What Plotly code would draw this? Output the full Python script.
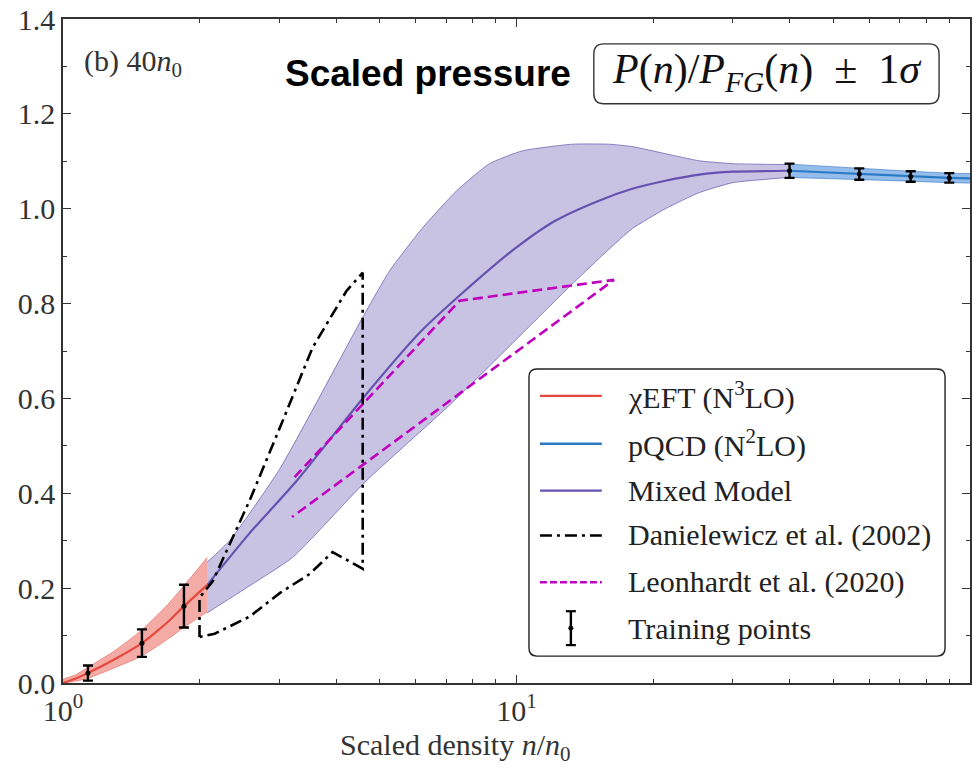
import plotly.graph_objects as go

# ---------------- data ----------------
# chiEFT (N3LO) band
eft_n   = [1.0, 1.07, 1.135, 1.3, 1.493, 1.7, 1.848, 2.08]
eft_mid = [0.0, 0.010, 0.021, 0.050, 0.084, 0.128, 0.162, 0.207]
eft_lo  = [0.0, 0.004, 0.010, 0.032, 0.057, 0.092, 0.117, 0.150]
eft_hi  = [0.008, 0.018, 0.033, 0.068, 0.112, 0.165, 0.205, 0.265]

# Mixed model
mix_n   = [2.08, 2.58, 3.28, 4.58, 6.12, 7.49, 9.8, 12.2, 15.2, 18.0, 21.3, 25.3, 30.0, 40.0]
mix_mid = [0.207, 0.316, 0.427, 0.600, 0.739, 0.817, 0.912, 0.975, 1.017, 1.042, 1.059, 1.072, 1.078, 1.080]
mixhi_n = [2.08, 2.33, 3.0, 4.58, 5.25, 6.21, 7.38, 8.72, 10.3, 13.26, 16.0, 18.0, 21.3, 25.3, 30.0, 40.0]
mix_hi  = [0.255, 0.30, 0.45, 0.771, 0.869, 0.96, 1.038, 1.095, 1.122, 1.136, 1.136, 1.131, 1.116, 1.101, 1.095, 1.093]
mixlo_n = [2.08, 2.58, 3.21, 4.65, 7.23, 13.1, 15.8, 18.0, 21.3, 25.3, 30.0, 40.0]
mix_lo  = [0.148, 0.205, 0.265, 0.425, 0.592, 0.836, 0.91, 0.958, 1.0, 1.034, 1.055, 1.066]

# pQCD (N2LO) band
qcd_n   = [40.0, 57.0, 74.0, 90.0, 100.0]
qcd_mid = [1.080, 1.073, 1.068, 1.065, 1.064]
qcd_lo  = [1.066, 1.062, 1.058, 1.055, 1.054]
qcd_hi  = [1.094, 1.085, 1.079, 1.075, 1.074]

# Danielewicz et al. (2002) region (closed outline)
dan_n = [2.0, 2.0, 2.14, 2.58, 3.01, 3.55, 4.22, 4.58, 4.58, 3.93, 3.50, 3.01, 2.58, 2.16, 2.0]
dan_p = [0.097, 0.18, 0.215, 0.385, 0.539, 0.707, 0.827, 0.865, 0.241, 0.276, 0.23, 0.19, 0.14, 0.104, 0.097]

# Leonhardt et al. (2020) region
leo_n = [3.24, 7.49, 16.4, 3.20]
leo_p = [0.434, 0.806, 0.85, 0.35]

# Training points
train_n   = [1.135, 1.493, 1.848, 40.0, 57.0, 74.0, 90.0]
train_p   = [0.021, 0.084, 0.162, 1.080, 1.073, 1.068, 1.065]
train_err = [0.016, 0.029, 0.045, 0.015, 0.012, 0.011, 0.010]

x_tickvals = [1, 10, 100]
x_ticktext = ["10<sup>0</sup>", "10<sup>1</sup>", "10<sup>2</sup>"]
x_minor = [m * d for d in (1, 10) for m in range(2, 10)]

legend_labels = ["χEFT (N<sup>3</sup>LO)", "pQCD (N<sup>2</sup>LO)", "Mixed Model",
                 "Danielewicz et al. (2002)", "Leonhardt et al. (2020)", "Training points"]

# ---------------- styles ----------------
RED = "#e5483c"
RED_FILL = "rgba(232,80,70,0.48)"
BLUE = "#2a7bc4"
BLUE_FILL = "rgba(60,135,220,0.55)"
PURPLE = "#6552b0"
PURPLE_FILL = "rgba(120,105,185,0.40)"
PURPLE_EDGE = "rgba(110,95,180,0.75)"
MAGENTA = "#bf00bf"
SERIF = "Liberation Serif, DejaVu Serif, serif"

W, H = 974, 768
L, R, T, B = 63, 972, 17, 683


def px(xp):
    return (xp - L) / (R - L)


def py(yp):
    return (B - yp) / (B - T)


def rounded_rect(x0, y0, x1, y1, r):
    """Rounded rectangle path in paper coords from pixel coords."""
    X0, X1 = px(x0), px(x1)
    Y0, Y1 = py(y0), py(y1)  # Y0 top (larger), Y1 bottom
    rx, ry = r / (R - L), r / (B - T)
    return (f"M {X0+rx},{Y0} L {X1-rx},{Y0} Q {X1},{Y0} {X1},{Y0-ry} "
            f"L {X1},{Y1+ry} Q {X1},{Y1} {X1-rx},{Y1} L {X0+rx},{Y1} "
            f"Q {X0},{Y1} {X0},{Y1+ry} L {X0},{Y0-ry} Q {X0},{Y0} {X0+rx},{Y0} Z")


fig = go.Figure()

# Mixed model band
fig.add_trace(go.Scatter(x=mixlo_n, y=mix_lo, mode="lines", line=dict(color=PURPLE_EDGE, width=1, shape="spline", smoothing=0.5),
                         showlegend=False, hoverinfo="skip"))
fig.add_trace(go.Scatter(x=mixhi_n, y=mix_hi, mode="lines", line=dict(color=PURPLE_EDGE, width=1, shape="spline", smoothing=0.5),
                         fill="tonexty", fillcolor=PURPLE_FILL, showlegend=False, hoverinfo="skip"))
# chiEFT band
fig.add_trace(go.Scatter(x=eft_n, y=eft_lo, mode="lines", line=dict(color="rgba(220,70,60,0.6)", width=0.8, shape="spline", smoothing=0.5),
                         showlegend=False, hoverinfo="skip"))
fig.add_trace(go.Scatter(x=eft_n, y=eft_hi, mode="lines", line=dict(color="rgba(220,70,60,0.6)", width=0.8, shape="spline", smoothing=0.5),
                         fill="tonexty", fillcolor=RED_FILL, showlegend=False, hoverinfo="skip"))
# pQCD band
fig.add_trace(go.Scatter(x=qcd_n, y=qcd_lo, mode="lines", line=dict(color="rgba(40,110,190,0.7)", width=0.8),
                         showlegend=False, hoverinfo="skip"))
fig.add_trace(go.Scatter(x=qcd_n, y=qcd_hi, mode="lines", line=dict(color="rgba(40,110,190,0.7)", width=0.8),
                         fill="tonexty", fillcolor=BLUE_FILL, showlegend=False, hoverinfo="skip"))
# central lines
fig.add_trace(go.Scatter(x=eft_n, y=eft_mid, mode="lines", line=dict(color=RED, width=2.2, shape="spline", smoothing=0.5),
                         name="χEFT (N3LO)", showlegend=False))
fig.add_trace(go.Scatter(x=qcd_n, y=qcd_mid, mode="lines", line=dict(color=BLUE, width=2.2),
                         name="pQCD (N2LO)", showlegend=False))
fig.add_trace(go.Scatter(x=mix_n, y=mix_mid, mode="lines", line=dict(color=PURPLE, width=2.2, shape="spline", smoothing=0.7),
                         name="Mixed Model", showlegend=False))
# Danielewicz
fig.add_trace(go.Scatter(x=dan_n, y=dan_p, mode="lines", line=dict(color="black", width=2.6, dash="12px,5px,3px,5px"),
                         name="Danielewicz et al. (2002)", showlegend=False))
# Leonhardt
fig.add_trace(go.Scatter(x=leo_n, y=leo_p, mode="lines", line=dict(color=MAGENTA, width=2.6, dash="10px,5px"),
                         name="Leonhardt et al. (2020)", showlegend=False))
# training points
fig.add_trace(go.Scatter(x=train_n, y=train_p, mode="markers",
                         marker=dict(color="black", size=5),
                         error_y=dict(type="data", array=train_err, color="black", thickness=2.4, width=5),
                         name="Training points", showlegend=False))

shapes = []
annotations = []

# ---- manual legend ----
shapes.append(dict(type="path", xref="paper", yref="paper", path=rounded_rect(530, 368, 947, 656, 8),
                   line=dict(color="#222", width=1.4), fillcolor="white", layer="above"))
rows = [395, 443, 490, 535, 582, 628]
styles = [dict(color=RED, width=2.4), dict(color=BLUE, width=2.4), dict(color=PURPLE, width=2.4),
          dict(color="black", width=2.4, dash="12px,5px,3px,5px"), dict(color=MAGENTA, width=2.4, dash="7px,3px")]
for yrow, st in zip(rows[:5], styles):
    shapes.append(dict(type="line", xref="paper", yref="paper", x0=px(541), x1=px(603), y0=py(yrow), y1=py(yrow),
                       line=st, layer="above"))
# error bar glyph
yc = rows[5]
shapes.append(dict(type="line", xref="paper", yref="paper", x0=px(572), x1=px(572), y0=py(yc - 17), y1=py(yc + 17),
                   line=dict(color="black", width=2.4), layer="above"))
for yy in (yc - 17, yc + 17):
    shapes.append(dict(type="line", xref="paper", yref="paper", x0=px(567), x1=px(577), y0=py(yy), y1=py(yy),
                       line=dict(color="black", width=2.2), layer="above"))
shapes.append(dict(type="circle", xref="paper", yref="paper", x0=px(569.5), x1=px(574.5), y0=py(yc - 2.5), y1=py(yc + 2.5),
                   fillcolor="black", line=dict(color="black", width=0), layer="above"))
for yrow, lab in zip(rows, legend_labels):
    annotations.append(dict(x=px(627), y=py(yrow), xref="paper", yref="paper", text=lab, showarrow=False,
                            xanchor="left", yanchor="middle", font=dict(family=SERIF, size=30, color="#222")))

# ---- math box ----
shapes.append(dict(type="path", xref="paper", yref="paper", path=rounded_rect(595, 42, 941, 102, 10),
                   line=dict(color="#333", width=1.4), fillcolor="white", layer="above"))
annotations.append(dict(x=px(769), y=py(70), xref="paper", yref="paper",
                        text="<i>P</i>(<i>n</i>)/<i>P</i><sub><i>FG</i></sub>(<i>n</i>)  ±  1<i>σ</i>",
                        showarrow=False, xanchor="center", yanchor="middle",
                        font=dict(family=SERIF, size=42, color="#111")))
# title
annotations.append(dict(x=px(283), y=py(72), xref="paper", yref="paper", text="<b>Scaled pressure</b>",
                        showarrow=False, xanchor="left", yanchor="middle",
                        font=dict(family="Liberation Sans, Arial, sans-serif", size=37, color="black")))
# panel label
annotations.append(dict(x=px(82), y=py(61), xref="paper", yref="paper", text="(b) 40<i>n</i><sub>0</sub>",
                        showarrow=False, xanchor="left", yanchor="middle",
                        font=dict(family=SERIF, size=30, color="#333")))
# x axis title
annotations.append(dict(x=px(456), y=py(747), xref="paper", yref="paper", text="Scaled density <i>n</i>/<i>n</i><sub>0</sub>",
                        showarrow=False, xanchor="center", yanchor="middle",
                        font=dict(family=SERIF, size=30, color="#333")))

fig.update_layout(
    width=W, height=H,
    margin=dict(l=L, r=W - R, t=T, b=H - B, pad=0),
    paper_bgcolor="white", plot_bgcolor="white",
    showlegend=False,
    shapes=shapes, annotations=annotations,
    xaxis=dict(type="log", range=[0, 2], showgrid=False, zeroline=False,
               showline=True, linecolor="#333", linewidth=1.5, mirror="allticks",
               ticks="inside", ticklen=8, tickwidth=1.2, tickcolor="#333",
               tickvals=x_tickvals, ticktext=x_ticktext,
               tickfont=dict(family=SERIF, size=30, color="#333"),
               minor=dict(tickvals=x_minor, ticks="inside", ticklen=4, tickwidth=1, tickcolor="#333")),
    yaxis=dict(range=[0, 1.4], showgrid=False, zeroline=False,
               showline=True, linecolor="#333", linewidth=1.5, mirror="allticks",
               ticks="inside", ticklen=8, tickwidth=1.2, tickcolor="#333",
               tick0=0, dtick=0.2, tickformat=".1f",
               tickfont=dict(family=SERIF, size=30, color="#333"),
               minor=dict(dtick=0.1, ticks="inside", ticklen=4, tickwidth=1, tickcolor="#333")),
)

fig.write_html("out.html")
